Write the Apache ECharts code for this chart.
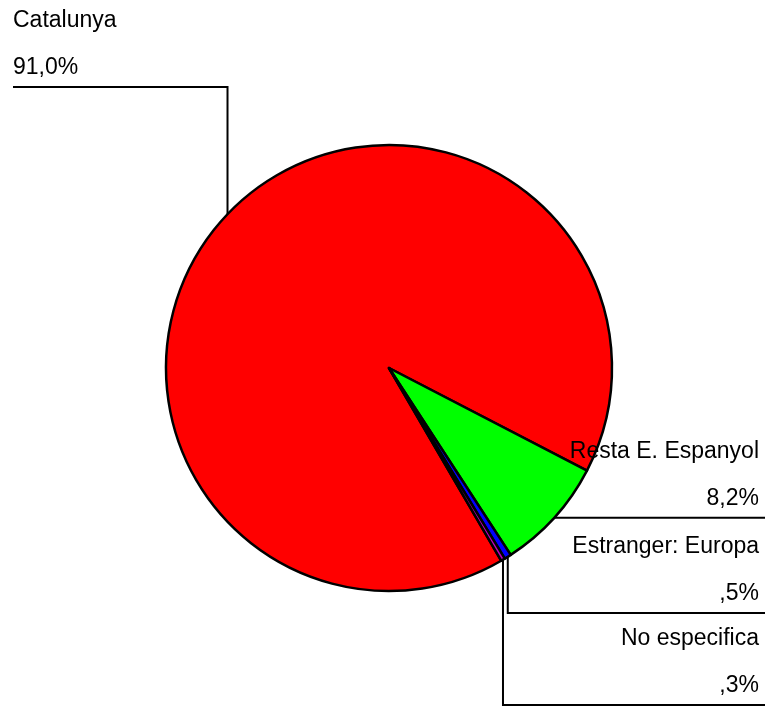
<!DOCTYPE html>
<html>
<head>
<meta charset="utf-8">
<title>Procedència</title>
<script src="https://cdn.jsdelivr.net/npm/echarts@6/dist/echarts.min.js"></script>
<style>
  html, body { margin: 0; padding: 0; background: #fff; }
  #chart { width: 768px; height: 706px; }
</style>
</head>
<body>
<div id="chart"></div>
<script>
// data
var names = ['Catalunya', 'Resta E. Espanyol', 'Estranger: Europa', 'No especifica'];
var values = [91.0, 8.2, 0.5, 0.3];
var pctLabels = ['91,0%', '8,2%', ',5%', ',3%'];
var colors = ['#ff0000', '#00ff00', '#0000ff', '#c000c0'];

// label placement: side of the page and the y of the rule under each label
// (null = rule runs level with the slice edge)
var labelSide = ['left', 'right', 'right', 'right'];
var ruleY = [87, null, 613, 705];
var leftX = 13, rightX = 765, rightTextX = 759;

var chart = echarts.init(document.getElementById('chart'));

var option = {
  animation: false,
  backgroundColor: '#fff',
  series: [{
    type: 'pie',
    center: [389, 368],
    radius: 223,
    startAngle: 300.2,
    clockwise: true,
    avoidLabelOverlap: false,
    silent: true,
    emphasis: { disabled: true },
    itemStyle: {
      borderColor: '#000',
      borderWidth: 2.5
    },
    label: {
      show: true,
      position: 'outside',
      color: '#000',
      formatter: function (p) {
        return '{n|' + p.name + '}\n{p|' + pctLabels[p.dataIndex] + '}';
      },
      rich: {
        n: { fontSize: 23, lineHeight: 47, fontFamily: 'Liberation Sans', color: '#000' },
        p: { fontSize: 23, lineHeight: 47, fontFamily: 'Liberation Sans', color: '#000' }
      }
    },
    labelLine: {
      show: true,
      smooth: false,
      lineStyle: { color: '#000', width: 2 }
    },
    labelLayout: function (params) {
      var i = params.dataIndex;
      var pts = params.labelLinePoints;
      if (!pts) return {};
      var edge = pts[0];
      var y = ruleY[i] == null ? edge[1] : ruleY[i];
      var left = labelSide[i] === 'left';
      var endX = left ? leftX : rightX;
      return {
        x: left ? leftX : rightTextX,
        y: y - 89.5,
        align: left ? 'left' : 'right',
        verticalAlign: 'top',
        labelLinePoints: [edge, [edge[0], y], [endX, y]]
      };
    },
    data: names.map(function (n, i) {
      return { name: n, value: values[i], itemStyle: { color: colors[i] } };
    })
  }]
};

chart.setOption(option);
</script>
</body>
</html>
